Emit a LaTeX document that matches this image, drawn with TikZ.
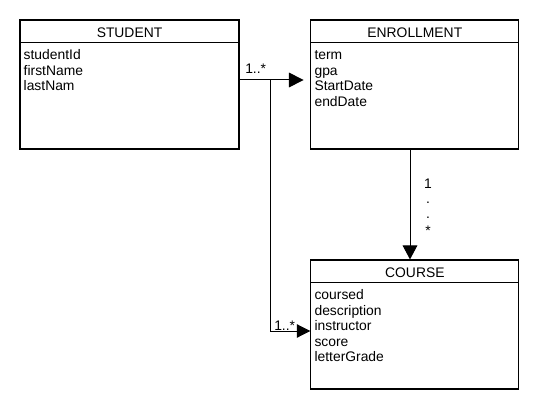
\documentclass[tikz,border=0pt]{standalone}
\usepackage{fontspec}
\setmainfont{Liberation Sans}
\usetikzlibrary{arrows.meta,calc}
\begin{document}
\begin{tikzpicture}[x=0.75pt,y=-0.75pt,
  every node/.style={font=\fontsize{10.4}{12}\selectfont},
  box/.style={draw,line width=0.85pt,inner sep=0pt,minimum height=96.75pt},
  hline/.style={line width=0.85pt},
  title/.style={anchor=base,inner sep=0pt},
  attr/.style={anchor=base west,inner sep=0pt},
  lab/.style={anchor=base west,inner sep=0pt},
  dotlab/.style={anchor=base,inner sep=0pt},
  conn/.style={line width=0.75pt},
  arr/.style={conn,-{Triangle[length=11pt,width=11pt]}}]
\useasboundingbox (0,0) rectangle (540,410);
\fill[white] (0,0) rectangle (540,410);
% boxes
\node[box,minimum width=164.25pt] (student) at (129.5,84.5) {};
\node[box,minimum width=156pt] (enroll) at (414.85,84.5) {};
\node[box,minimum width=156pt] (course) at (414.85,324.5) {};
% header lines
\draw[hline] ($(student.north west)+(0,23)$) -- ($(student.north east)+(0,23)$);
\draw[hline] ($(enroll.north west)+(0,23)$) -- ($(enroll.north east)+(0,23)$);
\draw[hline] ($(course.north west)+(0,23)$) -- ($(course.north east)+(0,23)$);
% titles
\node[title] (studentT) at ($(student.north)+(0,18.3)$) {STUDENT};
\node[title] (enrollT) at ($(enroll.north)+(0,18.3)$) {ENROLLMENT};
\node[title] (courseT) at ($(course.north)+(0,18.3)$) {COURSE};
% attributes
\foreach \t [count=\i] in {studentId,firstName,lastNam}
  \node[attr] (sa\i) at ($(student.north west)+(4,25+15.5*\i)$) {\t};
\foreach \t [count=\i] in {term,gpa,StartDate,endDate}
  \node[attr] (ea\i) at ($(enroll.north west)+(4,25+15.5*\i)$) {\t};
\foreach \t [count=\i] in {coursed,description,instructor,score,letterGrade}
  \node[attr] (ca\i) at ($(course.north west)+(4,25+15.5*\i)$) {\t};
% connectors
\coordinate (j) at (270,80);
\coordinate (k) at (270,331);
\coordinate (v) at (410,0);
\draw[arr,shorten >=5pt] (j -| student.east) -- (j -| enroll.west);
\draw[conn] (j) -- (k);
\draw[arr,-{Triangle[length=10pt,width=10pt]}] (k) -- (k -| course.west);
\draw[arr,-{Triangle[length=10.5pt,width=11pt]}] (enroll.south -| v) -- (course.north -| v);
% labels
\node[lab] (l1) at (245,74) {1..*};
\node[lab] (l2) at (274,330.5) {1..*};
\node[dotlab] (m1) at (428,189) {1};
\node[dotlab] (m2) at (428,204) {.};
\node[dotlab] (m3) at (428,219) {.};
\node[dotlab] (m4) at (428,236) {*};
\end{tikzpicture}
\end{document}
